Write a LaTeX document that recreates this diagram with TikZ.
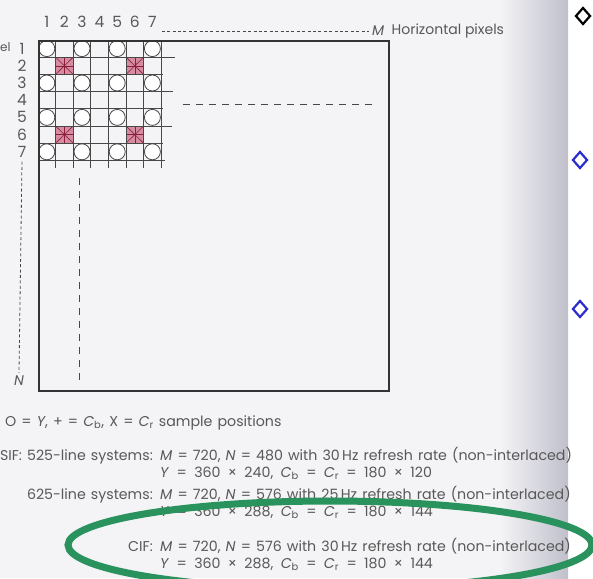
\documentclass[tikz,border=0pt]{standalone}
\usepackage{fontspec}
\setmainfont{Poppins}
\usetikzlibrary{shapes.geometric, positioning, calc}
\definecolor{inkgray}{RGB}{72,72,72}
\definecolor{textgray}{RGB}{88,88,88}
\definecolor{pagegray}{RGB}{244,244,246}
\definecolor{spinegray}{RGB}{192,192,204}
\definecolor{crpink}{RGB}{214,140,160}
\definecolor{crred}{RGB}{140,30,60}
\definecolor{ringgreen}{RGB}{42,146,92}
\definecolor{bulletblue}{RGB}{44,44,205}
\newcommand\capfont{\fontsize{14.2}{14.2}\selectfont\spaceskip 0.36em plus 0.1em\relax}
\newcommand\ratiofont{\fontsize{14.2}{14.2}\selectfont\spaceskip 0.52em plus 0.1em\relax}

\begin{document}
\begin{tikzpicture}[x=1pt, y=-1pt,
    gridline/.style={draw=inkgray, line width=0.9pt},
    frame/.style={draw=black!80, line width=1.6pt, minimum width=350pt, minimum height=350pt, inner sep=0pt, anchor=north west},
    ycirc/.style={circle, draw=inkgray, fill=white, line width=0.8pt, minimum size=16pt, inner sep=0pt},
    star/.style={draw=crred, line width=0.6pt},
    numlab/.style={font=\fontsize{15.5}{15.5}\selectfont, text=textgray, inner sep=0pt},
    caption/.style={font=\capfont, text=textgray, inner sep=0pt, anchor=base west},
    ratio/.style={caption, font=\ratiofont},
    dotline/.style={draw=inkgray, dash pattern=on 3pt off 2.4pt, line width=0.8pt},
    dashline/.style={draw=inkgray, dash pattern=on 7pt off 6pt, line width=1pt},
    bullet/.style={diamond, draw, line width=2.2pt, minimum width=15pt, minimum height=17pt, inner sep=0pt}
]
    % Page and spine shadow
    \fill[pagegray] (0,0) rectangle (568,578);
    \shade[left color=pagegray, right color=spinegray] (500,0) rectangle (568,578);
    \useasboundingbox (0,0) rectangle (593,578);

    % Cr / Cb cells
    \foreach \c/\r in {2/2, 6/2, 2/6, 6/6} {
        \fill[crpink] ({38+(\c-1)*17.6}, {40+(\r-1)*17.2}) rectangle +(17.6,17.2);
        \draw[star] ({38+(\c-1)*17.6}, {40+(\r-1)*17.2}) -- +(17.6,17.2);
        \draw[star] ({38+\c*17.6}, {40+(\r-1)*17.2}) -- +(-17.6,17.2);
        \draw[star] ({38+(\c-0.5)*17.6}, {40+(\r-1)*17.2}) -- +(0,17.2);
        \draw[star] ({38+(\c-1)*17.6}, {40+(\r-0.5)*17.2}) -- +(17.6,0);
    }

    % Sample grid
    \foreach \i in {1,...,7}
        \draw[gridline] ({38+\i*17.6}, 40) -- ({38+\i*17.6}, 168);
    \foreach \j/\len in {1/175, 2/163, 3/173, 4/163, 5/172, 6/163, 7/165}
        \draw[gridline] (38, {40+\j*17.2}) -- (\len, {40+\j*17.2});

    % Y samples
    \foreach \r in {1,3,5,7}
        \foreach \c in {1,3,5,7}
            \node[ycirc] (y\c\r) at ({38+(\c-0.5)*17.6}, {40+(\r-0.5)*17.2}) {};

    % Picture frame
    \node[frame] (screen) at (38,40) {};
    \draw[dashline] (183,104) -- (374,104);
    \draw[dashline] (79,178) -- (79,386);

    % Axis labels
    \foreach \c in {1,...,7}
        \node[numlab] (c\c) at ({38+(\c-0.5)*17.6}, 22) {\c};
    \foreach \r in {1,...,7}
        \node[numlab] (r\r) at (22, {40+(\r-0.5)*17.2}) {\r};
    \node[numlab, anchor=west, font=\fontsize{12}{12}\selectfont] (cut) at (0,47) {el};
    \node[numlab, anchor=west, font=\fontsize{14}{14}\selectfont] (M) at (372,31) {\textit{M}};
    \node[numlab, right=7pt of M, font=\fontsize{14}{14}\selectfont] (hpix) {Horizontal pixels};
    \node[numlab, font=\fontsize{14}{14}\selectfont] (N) at (19,381) {\textit{N}};
    \draw[dotline] ([xshift=5pt]c7.east |- M.west) -- ([xshift=-3pt]M.west);
    \draw[dotline] ([yshift=-4pt]r7.south) -- ([yshift=3pt]N.north);

    % Captions
    \node[caption] (key) at (5,426)
        {O = \textit{Y}, + = \textit{C}\textsubscript{b}, X = \textit{C}\textsubscript{r} sample positions};
    \node[caption, anchor=base east] (sif) at (153,460) {SIF: 525-line systems:};
    \node[caption] (sifm) at (160,460)
        {\textit{M} = 720, \textit{N} = 480 with 30\,Hz refresh rate (non-interlaced)};
    \node[ratio] (sify) at (160,477)
        {\textit{Y} = 360 × 240, \textit{C}\textsubscript{b} = \textit{C}\textsubscript{r} = 180 × 120};
    \node[caption, anchor=base east] (pal) at (153,499) {625-line systems:};
    \node[caption] (palm) at (160,499)
        {\textit{M} = 720, \textit{N} = 576 with 25\,Hz refresh rate (non-interlaced)};
    \node[ratio] (paly) at (160,516)
        {\textit{Y} = 360 × 288, \textit{C}\textsubscript{b} = \textit{C}\textsubscript{r} = 180 × 144};
    \node[caption, anchor=base east] (cif) at (153,551) {CIF:};
    \node[caption] (cifm) at (160,551)
        {\textit{M} = 720, \textit{N} = 576 with 30\,Hz refresh rate (non-interlaced)};
    \node[ratio] (cify) at (160,568)
        {\textit{Y} = 360 × 288, \textit{C}\textsubscript{b} = \textit{C}\textsubscript{r} = 180 × 144};

    % Highlight ring
    \draw[ringgreen, line width=7pt] (330,545) ellipse [x radius=262, y radius=44];

    % Margin bullets
    \node[bullet, draw=black] (b1) at (583,16) {};
    \node[bullet, draw=bulletblue] (b2) at (580,160) {};
    \node[bullet, draw=bulletblue] (b3) at (580,309) {};
\end{tikzpicture}
\end{document}
